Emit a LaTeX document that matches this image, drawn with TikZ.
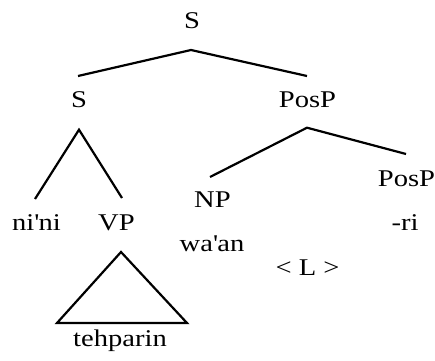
\documentclass[tikz,border=0pt]{standalone}
\usepackage{fontspec}
\setmainfont{Liberation Serif}[FakeStretch=1.19]
\begin{document}
\begin{tikzpicture}[x=1pt,y=1pt,
  lab/.style={anchor=base,inner sep=0pt,font=\fontsize{24}{28}\selectfont},
  br/.style={line width=2.2pt,line join=miter}]
\useasboundingbox (0,0) rectangle (435,360);
% labels
\node[lab] (S0) at (192,332) {S};
\node[lab] (Sl) at (79,252.3) {S};
\node[lab] (P1) at (307.5,252.3) {PosP};
\node[lab] (N1) at (36.5,130) {ni\textquotesingle ni};
\node[lab] (VP) at (116.5,130) {VP};
\node[lab] (NP) at (212.5,152.3) {NP};
\node[lab] (P2) at (406.5,174) {PosP};
\node[lab] (ri) at (405,130) {-ri};
\node[lab] (wa) at (212,108.3) {wa\textquotesingle an};
\node[lab] (L) at (307.5,85) {< L >};
\node[lab] (T) at (120,14) {tehparin};
% branches
\coordinate (a0) at ([shift={(-1,-22)}]S0.base);
\coordinate (a1) at ([shift={(0,-22)}]Sl.base);
\coordinate (a2) at ([shift={(-0.5,-20)}]P1.base);
\draw[br] ([shift={(-1,31.7)}]Sl.base) -- (a0) -- ([shift={(-0.5,31.7)}]P1.base);
\draw[br] ([shift={(-1.5,31)}]N1.base) -- (a1) -- ([shift={(5.5,32)}]VP.base);
\draw[br] ([shift={(-2.5,30.7)}]NP.base) -- (a2) -- ([shift={(-0.5,32)}]P2.base);
\draw[br] ([shift={(4.5,-22)}]VP.base) -- ([shift={(-63,23)}]T.base) -- ([shift={(67,23)}]T.base) -- cycle;
\end{tikzpicture}
\end{document}
